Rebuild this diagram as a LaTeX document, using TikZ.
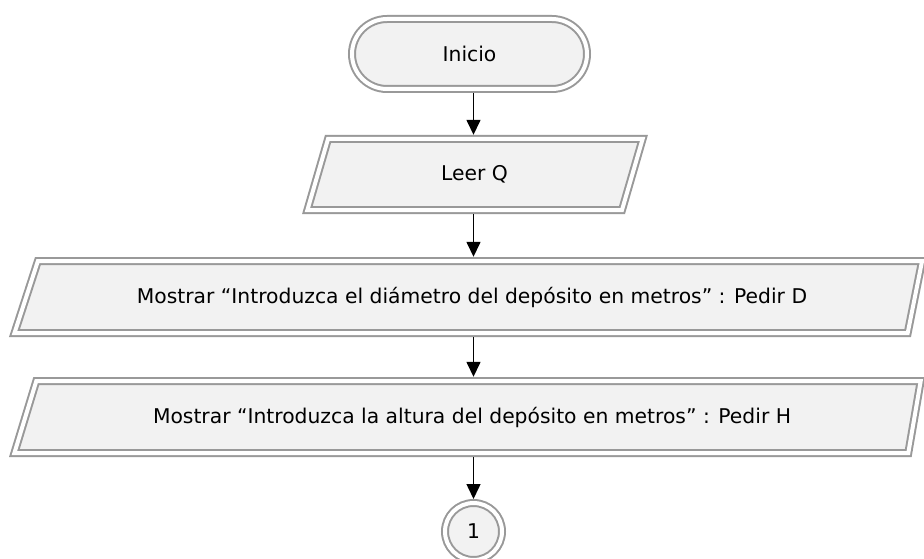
\documentclass[tikz,border=0pt]{standalone}
\usepackage{fontspec}
\setmainfont{DejaVu Sans}
\usetikzlibrary{arrows.meta,shapes.misc}
\definecolor{lineg}{HTML}{999999}
\definecolor{fillg}{HTML}{F2F2F2}
\tikzset{
  shp/.style={draw=lineg, line width=2pt, double=white, double distance=4pt, fill=fillg},
  lbl/.style={font=\fontsize{20.3pt}{24pt}\selectfont, inner sep=0pt, text=black},
  arr/.style={draw=black, line width=1.5pt, -{Triangle[length=15pt,width=14pt]}}
}
\begin{document}
\begin{tikzpicture}[x=1pt,y=-1pt]
\useasboundingbox (0,0) rectangle (924,559);
\clip (0,0) rectangle (924,559);
% shapes
\path[shp] (328,139) -- (642.6,139) -- (622,210) -- (307.4,210) -- cycle;
\path[shp] (37.9,261) -- (922.1,261) -- (907.7,333) -- (14.5,333) -- cycle;
\path[shp] (36.3,381) -- (920.7,381) -- (908.3,453) -- (14.4,453) -- cycle;
% nodes
\node[shp, rounded rectangle, minimum width=235pt, minimum height=70pt, outer sep=4pt, lbl] (inicio) at (469.5,54) {Inicio};
\node[lbl, minimum height=79pt] (leer) at (474.5,174.5) {Leer Q};
\node[lbl, minimum height=80pt] (md) at (472,297) {Mostrar “Introduzca el diámetro del depósito en metros” : Pedir D};
\node[lbl, minimum height=80pt] (mh) at (472,417) {Mostrar “Introduzca la altura del depósito en metros” : Pedir H};
\node[shp, circle, minimum size=57pt, outer sep=4pt, lbl] (c1) at (473.5,531.5) {1};
% connectors
\draw[arr] (inicio.south -| c1.north) -- (leer.north -| c1.north);
\draw[arr] (leer.south -| c1.north) -- (md.north -| c1.north);
\draw[arr] (md.south -| c1.north) -- (mh.north -| c1.north);
\draw[arr] (mh.south -| c1.north) -- (c1.north);
\end{tikzpicture}
\end{document}
